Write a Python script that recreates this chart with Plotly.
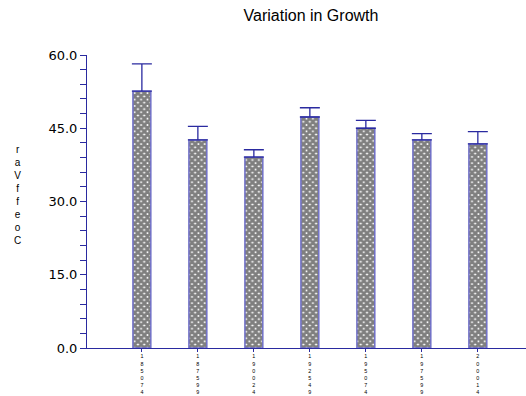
import plotly.graph_objects as go

categories = ["1850-74", "1875-99", "1900-24", "1925-49", "1950-74", "1975-99", "2000-14"]
coef_var = [52.6, 42.6, 39.1, 47.3, 45.0, 42.6, 41.8]
upper_err = [5.6, 2.8, 1.5, 1.9, 1.6, 1.3, 2.5]
y_ticks = [0, 15, 30, 45, 60]
y_tick_labels = ["0.0", "15.0", "30.0", "45.0", "60.0"]
title_text = "Variation in Growth"
y_title = "CoeffVar"

def stack(s):
    return "<br>".join(ch for ch in s if ch != "-")

x_idx = list(range(len(categories)))
axis_col = "#2a2aa0"

fig = go.Figure()
fig.add_trace(go.Bar(
    x=x_idx, y=coef_var, width=0.32,
    marker=dict(color="white",
                line=dict(color="#7070c8", width=1.5),
                pattern=dict(shape="x", fgcolor="black", bgcolor="white", size=4.5, solidity=0.85)),
    error_y=dict(type="data", array=upper_err, arrayminus=[0]*len(upper_err), symmetric=False,
                 color=axis_col, thickness=1.3, width=10),
    hoverinfo="skip",
))

fig.update_layout(
    width=526, height=396,
    margin=dict(l=87, r=0, t=55, b=48, autoexpand=False),
    paper_bgcolor="white", plot_bgcolor="white",
    showlegend=False,
    font=dict(family="Liberation Sans, Arial, sans-serif", color="black"),
    title=dict(text=title_text, x=311/526, xanchor="center", y=1-15/396, yanchor="middle",
               yref="container", xref="container", automargin=False,
               font=dict(size=16, family="Liberation Sans, Arial, sans-serif")),
    xaxis=dict(range=[-0.98, 6.86], tickmode="array", tickvals=x_idx,
               ticktext=[stack(c) for c in categories], automargin=False,
               showgrid=False, zeroline=False, showline=True, linecolor=axis_col, linewidth=1,
               ticks="outside", ticklen=3, tickcolor=axis_col,
               tickfont=dict(size=5.4, family="Liberation Sans, Arial, sans-serif")),
    yaxis=dict(range=[0, 60], tickmode="array", tickvals=y_ticks, ticktext=y_tick_labels,
               automargin=False,
               showgrid=False, zeroline=False, showline=True, linecolor=axis_col, linewidth=1,
               ticks="outside", ticklen=6, tickcolor=axis_col,
               minor=dict(dtick=3, ticks="outside", ticklen=6, tickcolor=axis_col, showgrid=False),
               tickfont=dict(size=13, family="DejaVu Sans, sans-serif")),
)

fig.add_annotation(text="<br>".join(reversed(list(y_title))), xref="paper", yref="paper",
                   x=(17-87)/439, xanchor="center", y=(348-195)/293, yanchor="middle",
                   showarrow=False, font=dict(size=10, family="Liberation Sans, Arial, sans-serif"))

fig.write_html("out.html", config={"displayModeBar": False},
               post_script="document.body.style.margin='0';")
